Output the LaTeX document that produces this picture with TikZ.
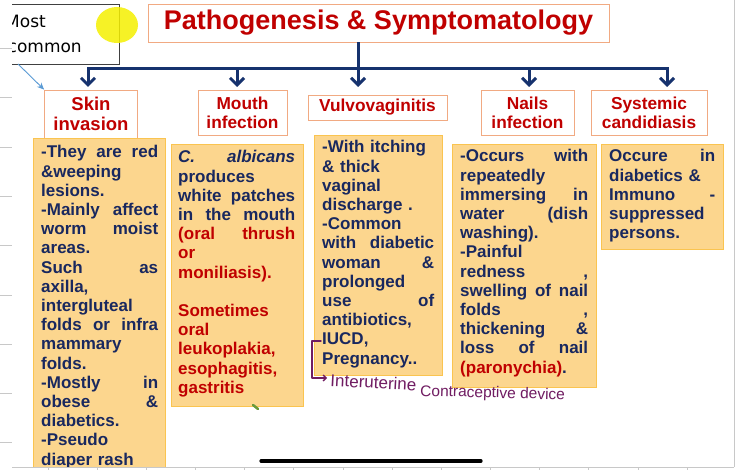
\documentclass[tikz,border=0pt]{standalone}
\usepackage{fontspec}
\setmainfont{Liberation Sans}
\newfontfamily\notefont{DejaVu Sans}
\usetikzlibrary{arrows.meta}
\definecolor{headred}{RGB}{192,0,0}
\definecolor{navytext}{RGB}{25,40,95}
\definecolor{busnavy}{RGB}{22,50,110}
\definecolor{headline}{RGB}{241,170,130}
\definecolor{bodyfill}{RGB}{252,214,142}
\definecolor{bodyline}{RGB}{250,196,80}
\definecolor{inkpurple}{RGB}{112,28,98}
\definecolor{pointblue}{RGB}{91,155,213}
\definecolor{hilite}{RGB}{245,240,0}
\definecolor{gridgray}{RGB}{200,200,200}
\definecolor{dotgreen}{RGB}{105,155,60}
\newcommand\bodyfont{\bfseries\fontsize{17}{19.2}\selectfont}
\begin{document}
\begin{tikzpicture}[x=1pt,y=-1pt,
    titlebox/.style={draw=headline,fill=white,line width=0.8pt,text=headred,font=\bfseries\fontsize{27}{30}\selectfont,inner sep=0pt},
    headbox/.style={draw=headline,fill=white,line width=0.8pt,text=headred,font=\bfseries\fontsize{17.3}{19}\selectfont,align=center,inner sep=0pt},
    bodybox/.style={draw=bodyline,fill=bodyfill,line width=0.8pt,anchor=north west,inner sep=0pt},
    bodytext/.style={text=navytext,font=\bodyfont,anchor=base west,inner sep=0pt,align=left},
    bus/.style={draw=busnavy,line width=3pt},
    busarrow/.style={bus,-{Straight Barb[length=7pt,width=14pt]}},
    handink/.style={draw=inkpurple,line width=1.4pt,line cap=round,line join=round}]
\useasboundingbox (0,0) rectangle (736,470);
\fill[white] (0,0) rectangle (736,470);
\foreach \y in {48,97,147,196,245,295,344,393,442}
    \draw[gridgray,line width=0.8pt] (0,\y) -- (12,\y);
\draw[gridgray,line width=0.8pt] (734,0) -- (734,467);

\node[titlebox,minimum width=461,minimum height=38] (title) at (378.5,23) {Pathogenesis \& Symptomatology};
\node[headbox,font=\bfseries\fontsize{18.5}{20}\selectfont,minimum width=93,minimum height=48] (skin) at (91,114) {Skin\\invasion};
\node[headbox,minimum width=89,minimum height=45] (mouth) at (242.5,112.5) {Mouth\\infection};
\node[headbox,minimum width=139,minimum height=25] (vulvo) at (377.5,107.5) {Vulvovaginitis};
\node[headbox,minimum width=93,minimum height=45] (nails) at (527.5,112.5) {Nails\\infection};
\node[headbox,minimum width=116,minimum height=45] (systemic) at (649,112.5) {Systemic\\candidiasis};

\coordinate (hub) at (358,69);
\coordinate (skinIn) at (88,87);
\coordinate (mouthIn) at (237,87);
\coordinate (vulvoIn) at (358,87);
\coordinate (nailsIn) at (529,87);
\coordinate (systemicIn) at (667,87);
\draw[bus] (title.south -| hub) -- (hub);
\draw[bus,{Straight Barb[length=7pt,width=14pt]}-{Straight Barb[length=7pt,width=14pt]},line join=miter]
    (skinIn) -- (skinIn |- hub) -- (systemicIn |- hub) -- (systemicIn);
\draw[busarrow] (mouthIn |- hub) -- (mouthIn);
\draw[busarrow] (hub) -- (vulvoIn);
\draw[busarrow] (nailsIn |- hub) -- (nailsIn);

\begin{scope}
\clip (0,0) rectangle (736,466.5);
\node[bodybox,minimum width=132,minimum height=332] (skinBox) at (33,138) {};
\node[bodytext,text width=117] (skinText) at (41,158) {%
-They\hfill are\hfill red\\
\&weeping\\
lesions.\\
-Mainly\hfill affect\\
worm\hfill moist\\
areas.\\
Such\hfill as\\
axilla,\\
intergluteal\\
folds\hfill or\hfill infra\\
mammary\\
folds.\\
-Mostly\hfill in\\
obese\hfill \&\\
diabetics.\\
-Pseudo\\
diaper rash};
\end{scope}

\node[bodybox,minimum width=132,minimum height=262] (mouthBox) at (171,144) {};
\node[bodytext,text width=117] (mouthText) at (178,163) {%
\textit{C.\hfill albicans}\\
produces\\
white\hfill patches\\
in\hfill the\hfill mouth\\
\textcolor{headred}{(oral\hfill thrush}\\
\textcolor{headred}{or}\\
\textcolor{headred}{moniliasis).}\\
\mbox{}\\
\textcolor{headred}{Sometimes}\\
\textcolor{headred}{oral}\\
\textcolor{headred}{leukoplakia,}\\
\textcolor{headred}{esophagitis,}\\
\textcolor{headred}{gastritis}};

\node[bodybox,minimum width=128,minimum height=240] (vulvoBox) at (314,135) {};
\node[bodytext,text width=112] (vulvoText) at (322,153) {%
-With itching\\
\& thick\\
vaginal\\
discharge .\\
-Common\\
with\hfill diabetic\\
woman\hfill \&\\
prolonged\\
use\hfill of\\
antibiotics,\\
IUCD,\\
Pregnancy..};

\node[bodybox,minimum width=144,minimum height=243] (nailsBox) at (452,144) {};
\node[bodytext,text width=128] (nailsText) at (460,162) {%
-Occurs\hfill with\\
repeatedly\\
immersing\hfill in\\
water\hfill (dish\\
washing).\\
-Painful\\
redness\hfill ,\\
swelling\hfill of\hfill nail\\
folds\hfill ,\\
thickening\hfill \&\\
loss\hfill of\hfill nail\\
\textcolor{headred}{(paronychia)}.};

\node[bodybox,minimum width=122,minimum height=105] (systemicBox) at (601,144) {};
\node[bodytext,text width=106] (systemicText) at (609,162) {%
Occure\hfill in\\
diabetics \&\\
Immuno\hfill -\\
suppressed\\
persons.};

\begin{scope}
\clip (12,0) rectangle (200,80);
\node[draw=black!75,line width=0.8pt,fill=white,anchor=north east,minimum width=130,minimum height=60,inner sep=0pt] (callout) at (120,4) {};
\node[anchor=base west,inner sep=0pt,font=\notefont\fontsize{17}{20}\selectfont] (most) at (5,28) {Most};
\node[anchor=base west,inner sep=0pt,font=\notefont\fontsize{17}{20}\selectfont] (common) at (7.5,53) {common};
\end{scope}
\fill[hilite,opacity=0.85] (117,25) ellipse [x radius=21pt,y radius=18pt];
\coordinate (calloutTail) at (18,64);
\draw[pointblue,line width=0.9pt,-{Stealth[length=7pt,width=6pt]}] (calloutTail) -- (skin.north west);

\coordinate (iucdTop) at (321,341);
\coordinate (iucdEnd) at (327,378);
\draw[handink,-{Straight Barb[length=3pt,width=6pt]}] (iucdTop) -- (iucdTop -| 312,0) -- (iucdEnd -| 312,0) -- (iucdEnd);
\node[anchor=base west,inner sep=0pt,text=inkpurple,font=\fontsize{17}{20}\selectfont,rotate=-3] (interuterine) at (330,386) {Interuterine};
\node[anchor=base west,inner sep=0pt,text=inkpurple,font=\fontsize{15.5}{18}\selectfont,rotate=-1.5] (contraceptive) at (420,396) {Contraceptive device};

\draw[dotgreen,line width=2.5pt,line cap=round] (253,405) -- (258,409);
\draw[black,line width=3.2pt,line cap=round] (261,461) -- (481,461);
\draw[gridgray,line width=0.8pt] (12,467) -- (734,467);
\foreach \x in {48,97,146,195,244,293,343,392,441,490,539,588,638,687}
    \draw[gridgray,line width=0.8pt] (\x,467) -- (\x,470);
\end{tikzpicture}
\end{document}
